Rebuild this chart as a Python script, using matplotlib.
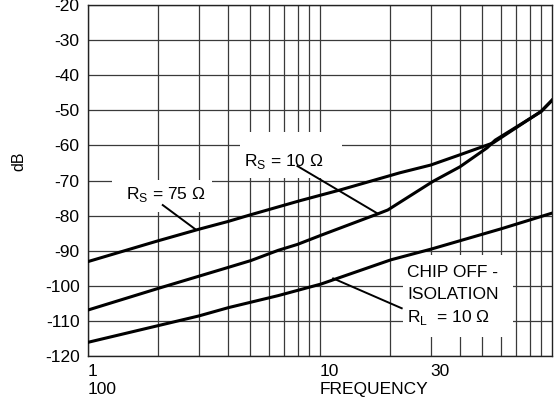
import matplotlib
matplotlib.use("Agg")
import matplotlib.pyplot as plt
from matplotlib.patches import Rectangle
from matplotlib.ticker import FixedLocator, NullFormatter, LogLocator

# -----------------------------
# DATA
# -----------------------------
# R_S = 75 ohm curve
freq_rs75 = [1.0, 2.0, 3.0, 4.0, 5.0, 8.2, 12.2, 22.1, 30.0, 40.0, 55.7, 89.7, 100.0]
db_rs75 = [-93.1, -87.2, -83.9, -81.7, -79.8, -75.75, -72.7, -67.8, -65.6, -62.7, -59.3, -50.3, -47.1]

# R_S = 10 ohm curve
freq_rs10 = [1.0, 2.04, 4.05, 5.04, 6.6, 8.0, 10.1, 17.6, 19.6, 30.6, 40.1, 52.5, 56.9, 89.7, 100.0]
db_rs10 = [-106.9, -100.6, -94.7, -92.8, -89.9, -88.2, -85.6, -79.6, -78.4, -70.3, -66.1, -60.7, -58.5, -50.4, -47.2]

# chip off - isolation, R_L = 10 ohm
freq_iso = [1.0, 2.02, 3.0, 4.04, 6.6, 10.1, 20.2, 30.3, 60.8, 100.0]
db_iso = [-116.1, -111.3, -108.6, -106.2, -102.8, -99.5, -92.6, -89.5, -83.7, -79.3]

y_ticks = [-120, -110, -100, -90, -80, -70, -60, -50, -40, -30, -20]
x_ticks = [1, 10, 30]
x_tick_labels = ["1\n100", "10\nFREQUENCY", "30"]

# -----------------------------
# STYLE
# -----------------------------
plt.rcParams["font.family"] = ["Liberation Sans", "DejaVu Sans"]
plt.rcParams["mathtext.fontset"] = "custom"
plt.rcParams["mathtext.rm"] = "Liberation Sans"
plt.rcParams["axes.unicode_minus"] = False
FS = 12.5

fig = plt.figure(figsize=(5.54, 4.08), dpi=100)
ax = fig.add_axes([88 / 554, 1 - 356 / 408, 464 / 554, 351 / 408])
ax.set_axisbelow(True)

ax.set_xscale("log")
ax.set_xlim(1, 100)
ax.set_ylim(-120, -20)

ax.xaxis.set_major_locator(FixedLocator(x_ticks))
ax.xaxis.set_minor_locator(LogLocator(base=10, subs=range(2, 10)))
ax.xaxis.set_minor_formatter(NullFormatter())
ax.set_xticklabels(x_tick_labels, ha="left", fontsize=FS, linespacing=1.25)
ax.set_yticks(y_ticks)
ax.set_yticklabels([str(v) for v in y_ticks], fontsize=FS)
ax.tick_params(which="both", length=0)
ax.tick_params(axis="x", pad=6)
ax.tick_params(axis="y", pad=6)

ax.grid(True, which="both", color="#3a3a3a", linewidth=0.9)
for s in ax.spines.values():
    s.set_color("#222222")
    s.set_linewidth(1.0)

# white boxes behind the labels (they break the grid)
for (x0, y0, w, h) in [(0.0517, 0.4103, 0.2153, 0.0911),
                       (0.3276, 0.507, 0.2198, 0.131),
                       (0.679, 0.0541, 0.237, 0.2336)]:
    ax.add_patch(Rectangle((x0, y0), w, h, transform=ax.transAxes,
                           facecolor="white", edgecolor="none", zorder=1))

# curves
lw = 2.2
ax.plot(freq_rs75, db_rs75, color="black", lw=lw, zorder=3, solid_joinstyle="round")
ax.plot(freq_rs10, db_rs10, color="black", lw=lw, zorder=3, solid_joinstyle="round")
ax.plot(freq_iso, db_iso, color="black", lw=lw, zorder=3, solid_joinstyle="round")

# labels and leader lines
ax.text(1.458, -75.3, r"R$_{\mathregular{S}}$ = 75 Ω", fontsize=FS, zorder=4)
ax.plot([2.10, 2.89], [-77.0, -83.8], color="black", lw=1.4, zorder=3)

ax.text(4.70, -65.9, r"R$_{\mathregular{S}}$ = 10 Ω", fontsize=FS, zorder=4)
ax.plot([8.0, 17.6], [-65.9, -79.3], color="black", lw=1.4, zorder=3)

ax.text(23.7, -97.4, "CHIP OFF -", fontsize=FS, zorder=4)
ax.text(23.7, -103.8, "ISOLATION", fontsize=FS, zorder=4)
ax.text(23.7, -110.2, r"R$_{\mathregular{L}}$  = 10 Ω", fontsize=FS, zorder=4)
ax.plot([11.4, 22.5], [-97.9, -106.4], color="black", lw=1.4, zorder=3)

fig.text(19 / 554, 1 - 161 / 408, "dB", rotation=90, fontsize=FS - 1,
         ha="center", va="center")

fig.savefig("out.png", dpi=100)
